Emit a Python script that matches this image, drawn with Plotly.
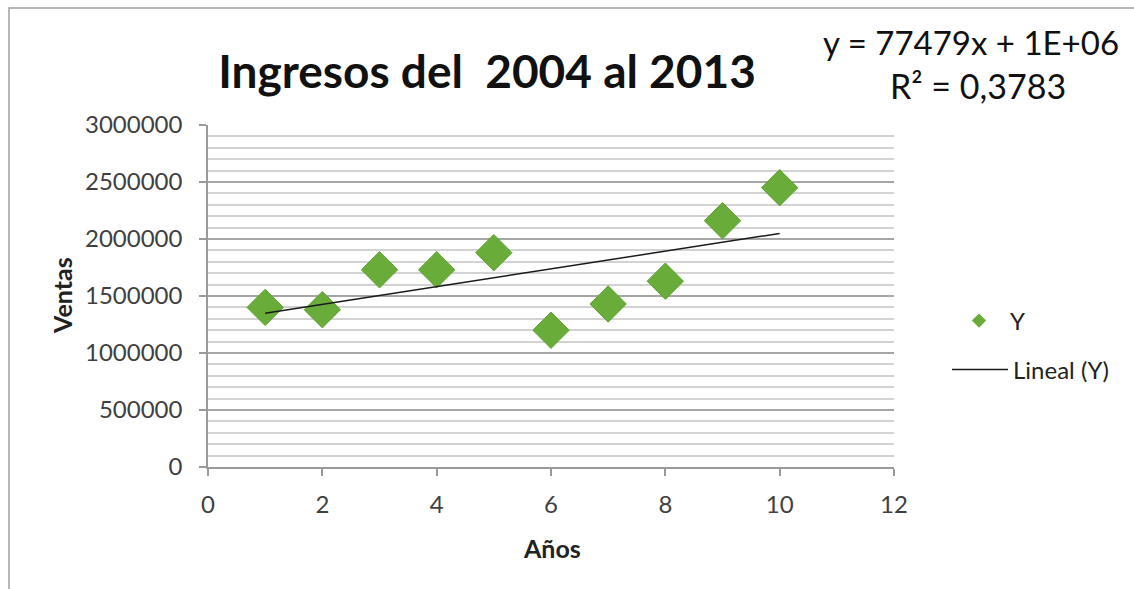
import numpy as np
import plotly.graph_objects as go

# Data
anios = [1, 2, 3, 4, 5, 6, 7, 8, 9, 10]
ventas = [1400000, 1380000, 1730000, 1730000, 1880000, 1200000, 1430000, 1630000, 2160000, 2450000]
title_text = "Ingresos del  2004 al 2013"
eq_line1 = "y = 77479x + 1E+06"
eq_line2 = "R² = 0,3783"

# Linear trendline computed from data
slope, intercept = np.polyfit(anios, ventas, 1)
trend_x = [min(anios), max(anios)]
trend_y = [slope * v + intercept for v in trend_x]

FONT = "Lato"
L, R, T, B = 208, 894, 125, 467
W, H = 1134, 589
GREEN = "#6AAC3A"

def px(x):
    return (x - L) / (R - L)

def py(y):
    return (B - y) / (B - T)

fig = go.Figure()
fig.add_trace(go.Scatter(
    x=anios, y=ventas, mode="markers", name="Y", showlegend=False,
    marker=dict(symbol="diamond", size=28, color=GREEN,
                line=dict(color="#62A134", width=1)),
))
fig.add_trace(go.Scatter(
    x=[None], y=[None], mode="markers", name="Y", legend="legend",
    marker=dict(symbol="diamond", size=11, color=GREEN),
))
fig.add_trace(go.Scatter(
    x=trend_x, y=trend_y, mode="lines", name="Lineal (Y)", legend="legend2",
    line=dict(color="#1a1a1a", width=1.5),
))

fig.update_layout(
    width=W, height=H,
    margin=dict(l=L, r=W - R, t=T, b=H - B),
    paper_bgcolor="white", plot_bgcolor="white",
    font=dict(family=FONT, color="#404040", size=24),
    title=dict(text="<b>" + title_text + "</b>", x=487 / W, y=1 - 72 / H,
               xanchor="center", yanchor="middle",
               font=dict(family=FONT, size=46, color="#111111")),
    legend=dict(x=px(948), y=py(321), xanchor="left", yanchor="middle",
                font=dict(family=FONT, size=24, color="#222222"),
                itemwidth=52, bgcolor="rgba(0,0,0,0)"),
    legend2=dict(x=px(947), y=py(370), xanchor="left", yanchor="middle",
                 font=dict(family=FONT, size=24, color="#222222"),
                 itemwidth=56, bgcolor="rgba(0,0,0,0)"),
    showlegend=True,
)

fig.update_xaxes(
    range=[0, 12], dtick=2, tick0=0, showgrid=False, zeroline=False,
    showline=True, linecolor="#9a9a9a", linewidth=1.5,
    ticks="outside", ticklen=7, tickcolor="#9a9a9a", tickwidth=1.5,
    ticklabelstandoff=8,
    tickfont=dict(size=24, color="#404040"),
)
fig.update_yaxes(
    range=[0, 3000000], dtick=500000, tick0=0, tickformat="d",
    showgrid=True, gridcolor="#a6a6a6", gridwidth=1.5, zeroline=False,
    showline=True, linecolor="#9a9a9a", linewidth=1.5,
    ticks="outside", ticklen=7, tickcolor="#9a9a9a", tickwidth=1.5,
    ticklabelstandoff=12,
    tickfont=dict(size=24, color="#404040"),
    minor=dict(dtick=100000, showgrid=True, gridcolor="#d2d2d2", gridwidth=1.5),
)

fig.add_annotation(text="<b>Ventas</b>", x=px(62), y=py(296), xref="paper", yref="paper",
                   xanchor="center", yanchor="middle",
                   textangle=-90, showarrow=False, font=dict(size=25, color="#222222"))
fig.add_annotation(text="<b>Años</b>", x=px(552), y=py(548), xref="paper", yref="paper",
                   xanchor="center", yanchor="middle",
                   showarrow=False, font=dict(size=25, color="#222222"))
fig.add_annotation(text=eq_line1, x=px(971), y=py(42), xref="paper", yref="paper",
                   xanchor="center", yanchor="middle",
                   showarrow=False, font=dict(size=33, color="#111111"))
fig.add_annotation(text=eq_line2, x=px(978), y=py(85), xref="paper", yref="paper",
                   xanchor="center", yanchor="middle",
                   showarrow=False, font=dict(size=34, color="#111111"))

fig.add_shape(type="rect", xref="paper", yref="paper",
              x0=px(9), x1=px(1140), y0=py(600), y1=py(8),
              line=dict(color="#a0a0a0", width=1.5), layer="below")

fig.write_html("out.html")
